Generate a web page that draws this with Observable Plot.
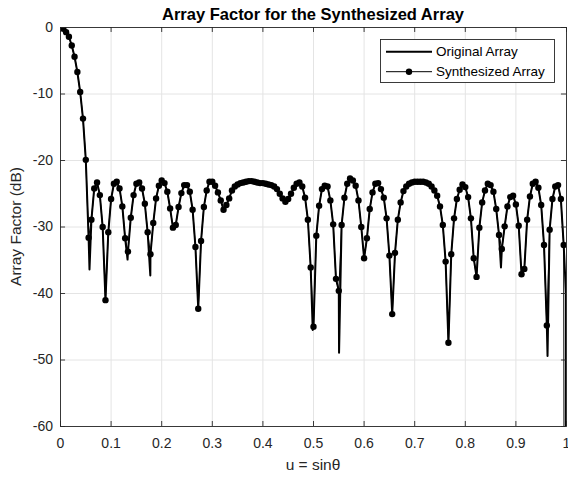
<!DOCTYPE html>
<html>
<head>
<meta charset="utf-8">
<script src="https://cdn.jsdelivr.net/npm/d3@7"></script>
<script src="https://cdn.jsdelivr.net/npm/@observablehq/plot@0.6"></script>
<style>
  html, body { margin: 0; padding: 0; background: #ffffff; }
  #chart svg { display: block; }
</style>
</head>
<body>
<div id="chart"></div>
<script>
// ---- Data ----
// Sample grid: u = sin(theta), 181 equally spaced samples from 0 to 1
const uSamples = d3.range(181).map(k => k / 180);

// Synthesized array factor (dB) at each sample
const synthDb = [
  0, -0.2, -0.7, -1.4, -2.7, -4.4, -6.7, -9.7, -13.7, -19.9,
  -31.6, -28.9, -24.2, -23.3, -25.2, -30.0, -41.0, -30.8, -25.8, -23.5,
  -23.2, -24.2, -26.9, -31.7, -33.7, -28.6, -25.2, -23.5, -23.3, -24.2,
  -26.5, -30.8, -34.1, -29.4, -25.7, -23.8, -23.0, -23.4, -24.7, -27.2,
  -30.1, -29.7, -27.0, -24.9, -23.7, -23.7, -24.7, -27.4, -33.0, -42.3,
  -32.1, -27.0, -24.5, -23.2, -23.2, -23.8, -24.8, -26.0, -27.4, -26.7,
  -25.7, -24.5, -23.9, -23.6, -23.4, -23.3, -23.2, -23.1, -23.1, -23.2,
  -23.3, -23.4, -23.4, -23.5, -23.6, -23.7, -23.9, -24.3, -25.0, -25.7,
  -26.2, -25.8, -25.0, -24.1, -23.5, -23.3, -23.9, -25.6, -28.9, -36.1,
  -45.0, -31.3, -26.8, -24.3, -23.8, -23.9, -26.0, -29.6, -37.8, -39.6,
  -29.7, -25.6, -23.5, -22.7, -23.0, -23.8, -26.0, -30.0, -34.7, -31.7,
  -27.3, -24.8, -23.5, -23.4, -24.3, -25.6, -28.7, -34.3, -43.1, -33.9,
  -28.9, -26.3, -24.6, -23.9, -23.5, -23.3, -23.2, -23.2, -23.2, -23.2,
  -23.3, -23.5, -23.9, -24.5, -25.3, -26.9, -29.7, -35.2, -47.4, -34.1,
  -28.7, -25.8, -24.4, -23.6, -24.0, -25.5, -28.7, -34.7, -37.5, -30.1,
  -26.3, -24.5, -23.5, -23.7, -24.7, -27.3, -31.2, -33.3, -29.9, -26.9,
  -25.5, -25.3, -26.6, -29.8, -37.1, -36.3, -28.9, -25.4, -23.5, -23.2,
  -24.1, -26.7, -32.7, -44.8, -30.4, -25.8, -23.9, -23.7, -25.8, -32.7,
  -300
];

// Original array: same samples plus finer null points visible in the picture
const origExtraU  = [0.0573, 0.1325, 0.1775, 0.4985, 0.5505, 0.8705, 0.9625, 0.999];
const origExtraDb = [-36.4, -34.9, -37.3, -45.5, -48.9, -36.1, -49.4, -40];

const xTicks = [0, 0.1, 0.2, 0.3, 0.4, 0.5, 0.6, 0.7, 0.8, 0.9, 1];
const yTicks = [-60, -50, -40, -30, -20, -10, 0];

const titleText = "Array Factor for the Synthesized Array";
const xLabelText = "u = sinθ";
const yLabelText = "Array Factor (dB)";
const seriesNames = ["Original Array", "Synthesized Array"];

// ---- Build tables ----
const synth = uSamples.map((u, i) => ({u, db: synthDb[i]}));
const orig = synth
  .concat(origExtraU.map((u, i) => ({u, db: origExtraDb[i]})))
  .sort((a, b) => a.u - b.u);

const W = 568, H = 477;
const mL = 60, mR = 2, mT = 27, mB = 51;
const axisColor = "#262626";
const gridColor = "#e4e4e4";
const font = "'Liberation Sans', Arial, Helvetica, sans-serif";

const chart = Plot.plot({
  width: W,
  height: H,
  marginLeft: mL,
  marginRight: mR,
  marginTop: mT,
  marginBottom: mB,
  style: {fontFamily: font, fontSize: "14px", background: "#ffffff", color: axisColor},
  x: {domain: [0, 1], label: null},
  y: {domain: [-60, 0], label: null},
  marks: [
    Plot.gridX(xTicks, {stroke: gridColor, strokeOpacity: 1, strokeWidth: 1}),
    Plot.gridY(yTicks, {stroke: gridColor, strokeOpacity: 1, strokeWidth: 1}),
    Plot.line(orig, {x: "u", y: "db", stroke: "#000", strokeWidth: 2, clip: true}),
    Plot.line(synth, {x: "u", y: "db", stroke: "#000", strokeWidth: 1, clip: true}),
    Plot.dot(synth, {x: "u", y: "db", r: 3.2, fill: "#000", clip: true}),
    Plot.frame({stroke: axisColor, strokeWidth: 0.9}),
    // inward tick marks on all four sides
    Plot.ruleY(yTicks, {x1: 0, x2: 0.01, stroke: axisColor, strokeWidth: 0.9}),
    Plot.ruleY(yTicks, {x1: 0.99, x2: 1, stroke: axisColor, strokeWidth: 0.9}),
    Plot.ruleX(xTicks, {y1: -60, y2: -59.25, stroke: axisColor, strokeWidth: 0.9}),
    Plot.ruleX(xTicks, {y1: -0.75, y2: 0, stroke: axisColor, strokeWidth: 0.9}),
    Plot.axisX({ticks: xTicks, tickSize: 0, tickPadding: 12, tickFormat: d => String(d), label: null, fontSize: 14, fill: axisColor}),
    Plot.axisY({ticks: yTicks, tickSize: 0, tickPadding: 7.5, tickFormat: d => String(d), label: null, fontSize: 14, fill: axisColor})
  ]
});

document.getElementById("chart").appendChild(chart);

// ---- Title, axis labels and legend ----
const svg = d3.select(chart);
const cx = mL + (W - mL - mR) / 2;

svg.append("text")
  .attr("x", cx).attr("y", 19.5)
  .attr("text-anchor", "middle")
  .attr("font-family", font).attr("font-size", 16.5).attr("font-weight", "bold")
  .attr("fill", "#000")
  .text(titleText);

svg.append("text")
  .attr("x", cx).attr("y", 470)
  .attr("text-anchor", "middle")
  .attr("font-family", font).attr("font-size", 15.5)
  .attr("fill", axisColor)
  .text(xLabelText);

svg.append("text")
  .attr("transform", `translate(21, ${mT + (H - mT - mB) / 2}) rotate(-90)`)
  .attr("text-anchor", "middle")
  .attr("font-family", font).attr("font-size", 15.5)
  .attr("fill", axisColor)
  .text(yLabelText);

const lg = svg.append("g");
lg.append("rect")
  .attr("x", 380.5).attr("y", 39.5).attr("width", 174).attr("height", 43)
  .attr("fill", "#fff").attr("stroke", axisColor).attr("stroke-width", 0.9);
const rows = [51.7, 71.7];
lg.append("line").attr("x1", 386).attr("x2", 432).attr("y1", rows[0]).attr("y2", rows[0])
  .attr("stroke", "#000").attr("stroke-width", 2);
lg.append("line").attr("x1", 386).attr("x2", 432).attr("y1", rows[1]).attr("y2", rows[1])
  .attr("stroke", "#000").attr("stroke-width", 1);
lg.append("circle").attr("cx", 409).attr("cy", rows[1]).attr("r", 3.2).attr("fill", "#000");
seriesNames.forEach((name, i) => {
  lg.append("text")
    .attr("x", 436).attr("y", rows[i]).attr("dy", "0.35em")
    .attr("text-anchor", "start")
    .attr("font-family", font).attr("font-size", 13.5)
    .attr("fill", "#000")
    .text(name);
});
</script>
</body>
</html>
